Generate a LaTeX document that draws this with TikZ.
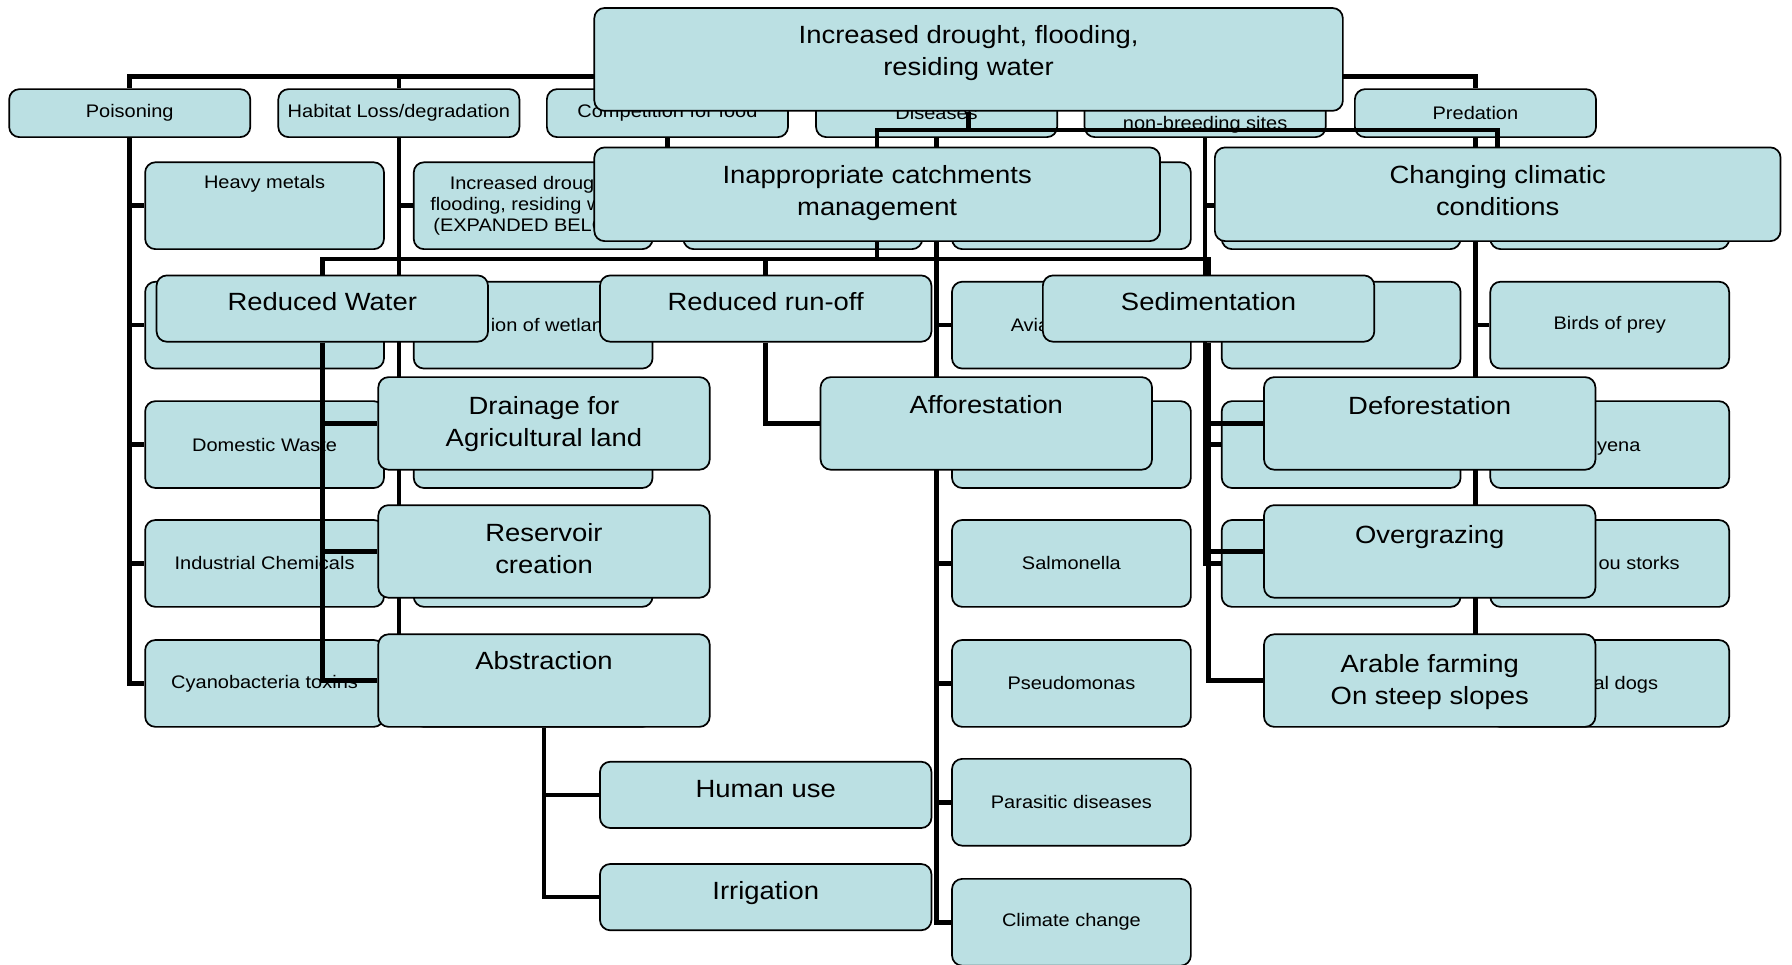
\documentclass[tikz,border=0pt]{standalone}
\usepackage{fontspec}
\setmainfont{Liberation Sans}[FakeStretch=1.1]
\usepackage{xcolor}
\usepackage{tikz}
\definecolor{boxfill}{RGB}{187,224,227}
\newcommand{\smallfnt}{\fontsize{7.95pt}{9.15pt}\selectfont}
\newcommand{\bigfnt}{\fontsize{10.9pt}{14pt}\selectfont}
\pgfdeclarelayer{threatlinks}
\pgfdeclarelayer{threatboxes}
\pgfdeclarelayer{causelinks}
\pgfsetlayers{threatlinks,threatboxes,causelinks,main}

\begin{document}
\begin{tikzpicture}[x=0.5pt,y=-0.5pt,
  every node/.style={inner sep=0pt},
  box/.style={draw,fill=boxfill,line width=0.75pt,rounded corners=4.5pt},
  topbox/.style={box,minimum width=105.5pt,minimum height=21pt,font=\smallfnt},
  leaf/.style={box,minimum width=104.5pt,minimum height=38pt,font=\smallfnt,align=center},
  cause/.style 2 args={box,minimum width=#1,minimum height=#2},
  stxt/.style={font=\smallfnt,anchor=base,yshift=-2.85pt},
  frag/.style={font=\smallfnt,anchor=base west,yshift=-2.85pt},
  btxt/.style={font=\bigfnt,anchor=base,yshift=-3.9pt},
  bmtxt/.style={font=\bigfnt,anchor=north,align=center,yshift=3.9pt},
  link/.style={line width=2pt}]
\useasboundingbox (0,0) rectangle (1568,844);

% threats chart (behind)
\begin{pgfonlayer}{threatboxes}
\coordinate (threats) at (847.5,50);
\node[topbox] (poison) at (113.5,99) {Poisoning};
\node[topbox] (habitat) at (349,99) {Habitat Loss/degradation};
\node[topbox] (compet) at (584,99) {Competition for food};
\node[topbox] (disease) at (819.5,99) {Diseases};
\node[topbox] (disturb) at (1054.5,99) {};
\node[stxt] (disturb-t) at (1054.5,108) {non-breeding sites};
\node[topbox] (predat) at (1291,99) {Predation};

\node[leaf] (poison1) at (231.5,180) {};
\node[stxt] (poison1-t) at (231.5,159) {Heavy metals};
\node[leaf] (poison2) at (231.5,284.5) {};
\node[leaf] (poison3) at (231.5,389) {Domestic Waste};
\node[leaf] (poison4) at (231.5,493) {Industrial Chemicals};
\node[leaf] (poison5) at (231.5,598) {Cyanobacteria toxins};

\node[leaf] (habitat1) at (466.5,180) {Increased drought,\\flooding, residing water\\(EXPANDED BELOW)};
\node[leaf] (habitat2) at (466.5,284.5) {};
\node[frag] (habitat2-t) at (429,284.5) {ion of wetlan};
\node[leaf] (habitat3) at (466.5,389) {};
\node[leaf] (habitat4) at (466.5,493) {};
\node[leaf] (habitat5) at (466.5,598) {};

\node[leaf] (compet1) at (702.5,180) {};

\node[leaf] (disease1) at (937.5,180) {};
\node[leaf] (disease2) at (937.5,284.5) {};
\node[frag] (disease2-t) at (884,284.5) {Avia};
\node[leaf] (disease3) at (937.5,389) {};
\node[leaf] (disease4) at (937.5,493) {Salmonella};
\node[leaf] (disease5) at (937.5,598) {Pseudomonas};
\node[leaf] (disease6) at (937.5,702) {Parasitic diseases};
\node[leaf] (disease7) at (937.5,807) {Climate change};

\node[leaf] (disturb1) at (1173.5,180) {};
\node[leaf] (disturb2) at (1173.5,284.5) {};
\node[leaf] (disturb3) at (1173.5,389) {};
\node[leaf] (disturb4) at (1173.5,493) {};

\node[leaf] (predat1) at (1408.5,180) {};
\node[leaf] (predat2) at (1408.5,284.5) {Birds of prey};
\node[leaf] (predat3) at (1408.5,389) {};
\node[frag] (predat3-t) at (1397,389) {yena};
\node[leaf] (predat4) at (1408.5,493) {};
\node[frag] (predat4-t) at (1398.3,493) {ou storks};
\node[leaf] (predat5) at (1408.5,598) {};
\node[frag] (predat5-t) at (1394,598) {al dogs};
\end{pgfonlayer}

\begin{pgfonlayer}{threatlinks}
\draw[link] (threats) -- ++(0,17) -| (poison.north)
            (threats) -- ++(0,17) -| (habitat.north)
            (threats) -- ++(0,17) -| (compet.north)
            (threats) -- ++(0,17) -| (disease.north)
            (threats) -- ++(0,17) -| (disturb.north)
            (threats) -- ++(0,17) -| (predat.north);
\draw[link] (poison.south) |- (poison1.west) (poison.south) |- (poison2.west)
            (poison.south) |- (poison3.west) (poison.south) |- (poison4.west)
            (poison.south) |- (poison5.west);
\draw[link] (habitat.south) |- (habitat1.west) (habitat.south) |- (habitat2.west)
            (habitat.south) |- (habitat3.west) (habitat.south) |- (habitat4.west)
            (habitat.south) |- (habitat5.west);
\draw[link] (compet.south) |- (compet1.west);
\draw[link] (disease.south) |- (disease1.west) (disease.south) |- (disease2.west)
            (disease.south) |- (disease3.west) (disease.south) |- (disease4.west)
            (disease.south) |- (disease5.west) (disease.south) |- (disease6.west)
            (disease.south) |- (disease7.west);
\draw[link] (disturb.south) |- (disturb1.west) (disturb.south) |- (disturb2.west)
            (disturb.south) |- (disturb3.west) (disturb.south) |- (disturb4.west);
\draw[link] (predat.south) |- (predat1.west) (predat.south) |- (predat2.west)
            (predat.south) |- (predat3.west) (predat.south) |- (predat4.west)
            (predat.south) |- (predat5.west);
\end{pgfonlayer}

% causes chart (front)
\node[cause={327.5pt}{45pt}] (drought) at (847.5,52) {};
\node[bmtxt] (drought-t) at (847.5,30) {Increased drought, flooding,\\residing water};
\node[cause={247.5pt}{41pt}] (catchment) at (767.5,170) {};
\node[bmtxt] (catchment-t) at (767.5,152) {Inappropriate catchments\\management};
\node[cause={247.5pt}{41pt}] (climate) at (1310.5,170) {};
\node[bmtxt] (climate-t) at (1310.5,152) {Changing climatic\\conditions};

\node[cause={145pt}{29pt}] (water) at (282,270) {};
\node[btxt] (water-t) at (282,264) {Reduced Water};
\node[cause={145pt}{29pt}] (runoff) at (670,270) {};
\node[btxt] (runoff-t) at (670,264) {Reduced run-off};
\node[cause={145pt}{29pt}] (sediment) at (1057.5,270) {};
\node[btxt] (sediment-t) at (1057.5,264) {Sedimentation};

\node[cause={145pt}{40.5pt}] (drainage) at (476,370.5) {};
\node[bmtxt] (drainage-t) at (476,354) {Drainage for\\Agricultural land};
\node[cause={145pt}{40.5pt}] (reservoir) at (476,482.5) {};
\node[bmtxt] (reservoir-t) at (476,465) {Reservoir\\creation};
\node[cause={145pt}{40.5pt}] (abstract) at (476,595.5) {};
\node[btxt] (abstract-t) at (476,578) {Abstraction};
\node[cause={145pt}{40.5pt}] (afforest) at (863,370.5) {};
\node[btxt] (afforest-t) at (863,354) {Afforestation};
\node[cause={145pt}{40.5pt}] (deforest) at (1251,370.5) {};
\node[btxt] (deforest-t) at (1251,355) {Deforestation};
\node[cause={145pt}{40.5pt}] (overgraze) at (1251,482.5) {};
\node[btxt] (overgraze-t) at (1251,468) {Overgrazing};
\node[cause={145pt}{40.5pt}] (arable) at (1251,595.5) {};
\node[bmtxt] (arable-t) at (1251,580) {Arable farming\\On steep slopes};
\node[cause={145pt}{29pt}] (human) at (670,695.5) {};
\node[btxt] (human-t) at (670,690) {Human use};
\node[cause={145pt}{29pt}] (irrigate) at (670,785) {};
\node[btxt] (irrigate-t) at (670,779) {Irrigation};

\begin{pgfonlayer}{causelinks}
\draw[link] (drought.south) -- ++(0,16) -| (catchment.north)
            (drought.south) -- ++(0,16) -| (climate.north);
\draw[link] (catchment.south) -- ++(0,15) -| (water.north)
            (catchment.south) -- ++(0,15) -| (runoff.north)
            (catchment.south) -- ++(0,15) -| (sediment.north);
\draw[link] (water.south) |- (drainage.west) (water.south) |- (reservoir.west)
            (water.south) |- (abstract.west);
\draw[link] (runoff.south) |- (afforest.west);
\draw[link] (sediment.south) |- (deforest.west) (sediment.south) |- (overgraze.west)
            (sediment.south) |- (arable.west);
\draw[link] (abstract.south) |- (human.west) (abstract.south) |- (irrigate.west);
\end{pgfonlayer}
\end{tikzpicture}
\end{document}
